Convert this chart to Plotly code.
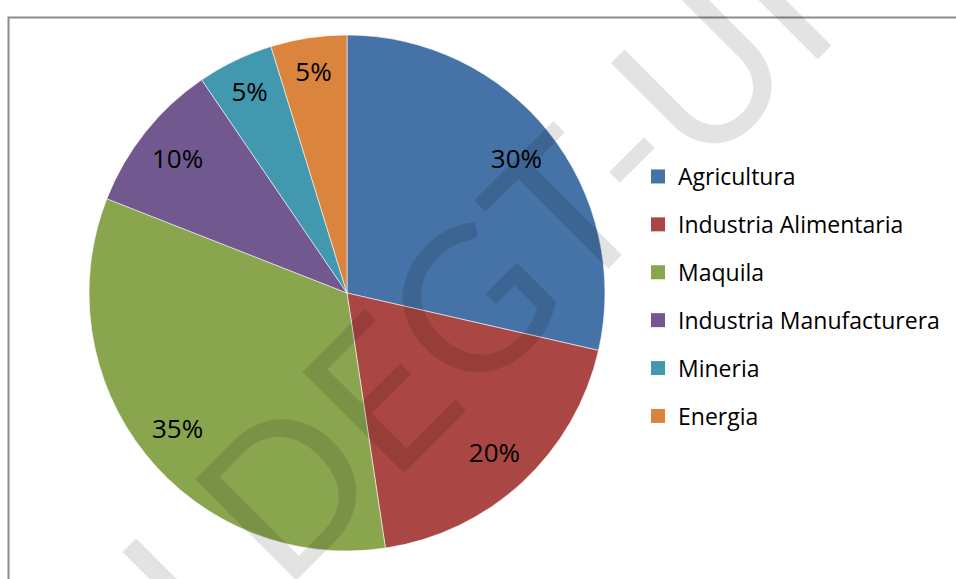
import plotly.graph_objects as go

categories = ["Agricultura", "Industria Alimentaria", "Maquila",
              "Industria Manufacturera", "Mineria", "Energia"]
values = [30, 20, 35, 10, 5, 5]
colors = ["#4572A7", "#AA4643", "#89A54E", "#71588F", "#4198AF", "#DB843D"]
watermark = "LDEGT-UI"

W, H = 956, 579
FONT = "Open Sans"
pie_domain = dict(x=[89 / W, 605 / W], y=[1 - 551 / H, 1 - 35 / H])

fig = go.Figure()
# filled pie (no text)
fig.add_trace(go.Pie(
    labels=categories, values=values, sort=False, direction="clockwise", rotation=0,
    marker=dict(colors=colors, line=dict(color="rgba(255,255,255,0.7)", width=0.8)),
    textinfo="none", showlegend=False, hoverinfo="label+value",
    domain=pie_domain,
))
# transparent ring carrying the data labels near the outer edge
fig.add_trace(go.Pie(
    labels=categories, values=values, sort=False, direction="clockwise", rotation=0,
    hole=0.68,
    marker=dict(colors=["rgba(0,0,0,0)"] * len(values), line=dict(width=0)),
    texttemplate="%{value}%", textposition="inside", insidetextorientation="horizontal",
    textfont=dict(family=FONT, size=26, color="black"),
    showlegend=False, hoverinfo="skip",
    domain=pie_domain,
))

for cat, col in zip(categories, colors):
    fig.add_trace(go.Scatter(
        x=[None], y=[None], mode="markers", name=cat, legendgroup=cat,
        marker=dict(symbol="square", size=14, color=col),
        showlegend=True,
    ))

fig.update_layout(
    width=W, height=H,
    margin=dict(l=0, r=0, t=0, b=0),
    paper_bgcolor="white", plot_bgcolor="white",
    xaxis=dict(visible=False), yaxis=dict(visible=False),
    legend=dict(
        x=638 / W, xanchor="left", y=1 - 155 / H, yanchor="top",
        font=dict(family=FONT, size=23, color="black"),
        tracegroupgap=15, bgcolor="rgba(0,0,0,0)",
        itemclick=False,
    ),
    shapes=[dict(type="rect", xref="paper", yref="paper",
                 x0=8.5 / W, x1=1.05, y0=-0.05, y1=1 - 17.5 / H,
                 line=dict(color="#8C8C8C", width=2), fillcolor="rgba(0,0,0,0)",
                 layer="above")],
    annotations=[dict(text=watermark, xref="paper", yref="paper",
                      x=473 / W, y=1 - 295 / H, xanchor="center", yanchor="middle",
                      textangle=-45, showarrow=False,
                      font=dict(family="Lato", size=200, color="rgba(0,0,0,0.11)"))],
)

fig.write_html("out.html", config={"displayModeBar": False},
               post_script="document.body.style.margin='0px';")
